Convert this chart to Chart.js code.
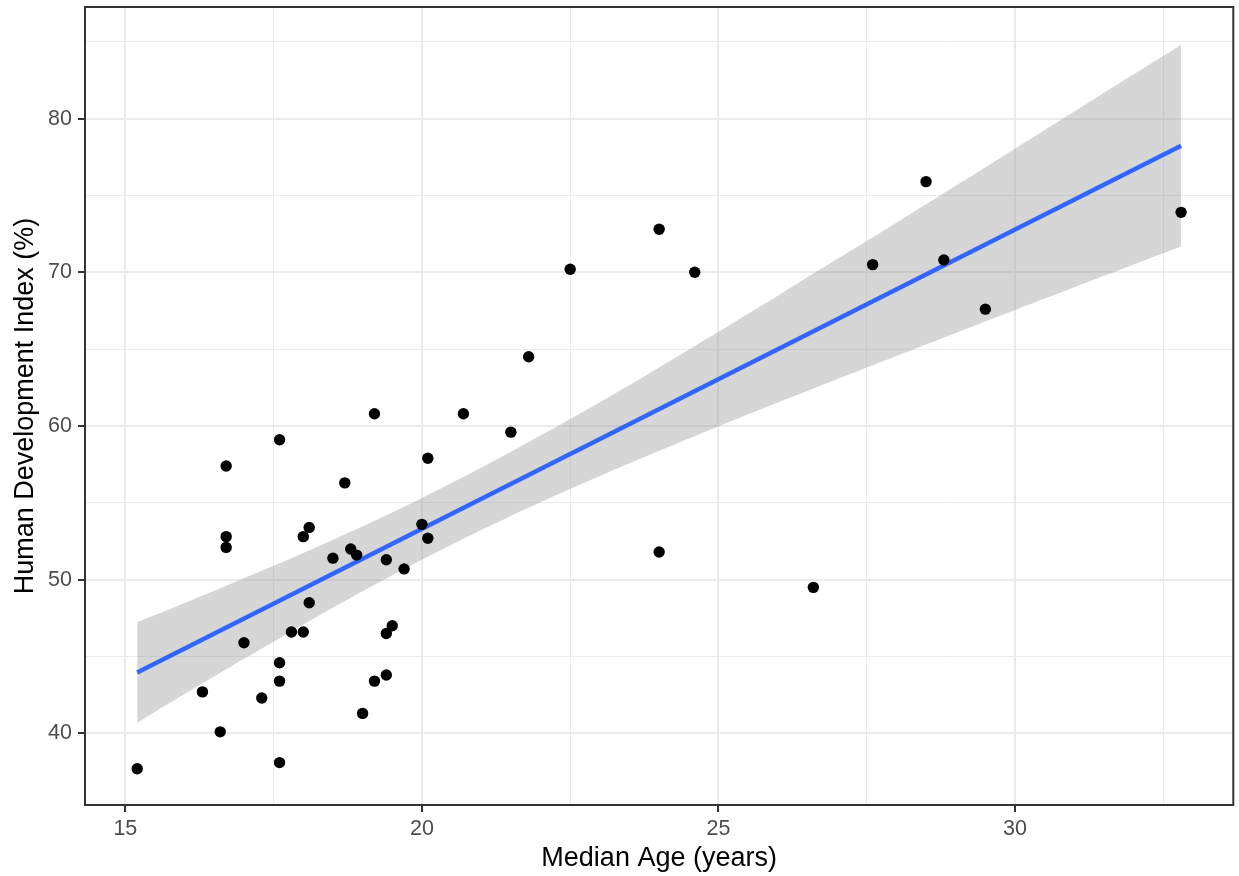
<!DOCTYPE html>
<html>
<head>
<meta charset="utf-8">
<script src="https://cdn.jsdelivr.net/npm/chart.js@4"></script>
<style>
  html, body { margin: 0; padding: 0; background: #ffffff; }
  #wrap { position: relative; width: 1239px; height: 876px; }
</style>
</head>
<body>
<div id="wrap"><canvas id="chart"></canvas></div>
<script>
// median age (years) and HDI (%) per country
const ageX = [15.2, 16.3, 16.6, 16.7, 16.7, 16.7, 17.0, 17.3, 17.6, 17.6, 17.6, 17.6,
              17.8, 18.0, 18.0, 18.1, 18.1, 18.5, 18.7, 18.8, 18.9, 19.0, 19.2, 19.2,
              19.4, 19.4, 19.4, 19.5, 19.7, 20.0, 20.1, 20.1, 20.7, 21.5, 21.8, 22.5,
              24.0, 24.0, 24.6, 26.6, 27.6, 28.5, 28.8, 29.5, 32.8];
const hdiY = [37.7, 42.7, 40.1, 57.4, 52.8, 52.1, 45.9, 42.3, 59.1, 44.6, 43.4, 38.1,
              46.6, 46.6, 52.8, 53.4, 48.5, 51.4, 56.3, 52.0, 51.6, 41.3, 60.8, 43.4,
              51.3, 46.5, 43.8, 47.0, 50.7, 53.6, 57.9, 52.7, 60.8, 59.6, 64.5, 70.2,
              72.8, 51.8, 70.0, 49.5, 70.5, 75.9, 70.8, 67.6, 73.9];

// lm fit line and its confidence band
const fitX = [15.2, 32.8];
const fitY = [43.96, 78.24];
const bandX = [15.2, 16, 17, 18, 19, 20, 21, 22, 23, 24, 25, 26, 27, 28, 29, 30, 31, 32, 32.8];
const bandUpper = [47.23, 48.48, 50.09, 51.73, 53.47, 55.32, 57.29, 59.38, 61.55, 63.81,
                   66.13, 68.48, 70.86, 73.23, 75.63, 78.04, 80.46, 82.88, 84.81];
const bandLower = [40.69, 42.56, 44.85, 47.09, 49.25, 51.30, 53.23, 55.04, 56.75, 58.39,
                   59.97, 61.52, 63.04, 64.55, 66.05, 67.54, 69.02, 70.50, 71.67];

const xMajorTicks = [15, 20, 25, 30];
const xMinorTicks = [17.5, 22.5, 27.5, 32.5];
const yMajorTicks = [40, 50, 60, 70, 80];
const yMinorTicks = [45, 55, 65, 75, 85];

const FONT = "'Liberation Sans', Arial, sans-serif";

function toPts(xs, ys) {
    return xs.map((x, i) => ({ x: x, y: ys[i] }));
}

function gridOpts(major) {
    return {
        color: '#EBEBEB',
        lineWidth: ctx => (ctx.tick && major.includes(ctx.tick.value)) ? 2 : 1,
        tickColor: ctx => (ctx.tick && major.includes(ctx.tick.value)) ? '#333333' : 'rgba(0,0,0,0)',
        tickWidth: 2,
        tickLength: 7,
        drawOnChartArea: true
    };
}

// panel border drawn on top, like ggplot's theme_bw
const panelBorder = {
    id: 'panelBorder',
    afterDatasetsDraw(chart) {
        const a = chart.chartArea;
        const ctx = chart.ctx;
        ctx.save();
        ctx.strokeStyle = '#333333';
        ctx.lineWidth = 2;
        ctx.strokeRect(a.left, a.top, a.right - a.left, a.bottom - a.top);
        ctx.restore();
    }
};

new Chart(document.getElementById('chart'), {
    type: 'scatter',
    data: {
        datasets: [
            {
                label: 'countries',
                data: toPts(ageX, hdiY),
                pointRadius: 5.7,
                pointBackgroundColor: '#000000',
                pointBorderWidth: 0,
                borderWidth: 0
            },
            {
                type: 'line',
                label: 'fit',
                data: toPts(fitX, fitY),
                borderColor: '#3366FF',
                borderWidth: 4.5,
                pointRadius: 0,
                fill: false
            },
            {
                type: 'line',
                label: 'upper',
                data: toPts(bandX, bandUpper),
                borderWidth: 0,
                borderColor: 'rgba(0,0,0,0)',
                pointRadius: 0,
                tension: 0.3,
                backgroundColor: 'rgba(153,153,153,0.4)',
                fill: '+1'
            },
            {
                type: 'line',
                label: 'lower',
                data: toPts(bandX, bandLower),
                borderWidth: 0,
                borderColor: 'rgba(0,0,0,0)',
                pointRadius: 0,
                tension: 0.3,
                fill: false
            }
        ]
    },
    options: {
        responsive: true,
        maintainAspectRatio: false,
        animation: false,
        layout: { padding: { top: 7, right: 4, left: 0, bottom: 0 } },
        plugins: {
            legend: { display: false },
            tooltip: { enabled: false }
        },
        scales: {
            x: {
                type: 'linear',
                min: 14.32,
                max: 33.68,
                afterBuildTicks: s => { s.ticks = xMajorTicks.concat(xMinorTicks).sort((a, b) => a - b).map(v => ({ value: v })); },
                afterFit: s => { s.height = 71; s.paddingLeft = 0; s.paddingRight = 0; },
                grid: gridOpts(xMajorTicks),
                border: { display: false },
                ticks: {
                    autoSkip: false,
                    maxRotation: 0,
                    padding: 4,
                    color: '#4D4D4D',
                    font: { family: FONT, size: 21.5 },
                    callback: v => xMajorTicks.includes(v) ? String(v) : ''
                },
                title: {
                    display: true,
                    text: 'Median Age (years)',
                    color: '#000000',
                    font: { family: FONT, size: 27 },
                    padding: { top: 0, bottom: 1 }
                }
            },
            y: {
                type: 'linear',
                min: 35.34,
                max: 87.26,
                afterBuildTicks: s => { s.ticks = yMajorTicks.concat(yMinorTicks).sort((a, b) => a - b).map(v => ({ value: v })); },
                afterFit: s => { s.width = 85; s.paddingTop = 0; s.paddingBottom = 0; },
                grid: gridOpts(yMajorTicks),
                border: { display: false },
                ticks: {
                    autoSkip: false,
                    padding: 6,
                    color: '#4D4D4D',
                    font: { family: FONT, size: 21.5 },
                    callback: v => yMajorTicks.includes(v) ? String(v) : ''
                },
                title: {
                    display: true,
                    text: 'Human Development Index (%)',
                    color: '#000000',
                    font: { family: FONT, size: 27 },
                    padding: { top: 9, bottom: 0 }
                }
            }
        }
    },
    plugins: [panelBorder]
});
</script>
</body>
</html>
